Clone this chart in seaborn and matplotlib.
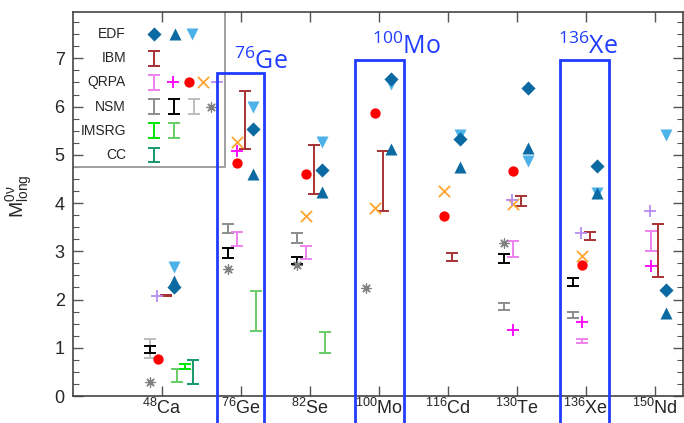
import numpy as np
import pandas as pd
import seaborn as sns
import matplotlib.pyplot as plt
from matplotlib.patches import Rectangle

nan = np.nan

# categories on the x axis
mass = ['48', '76', '82', '100', '116', '130', '136', '150']
element = ['Ca', 'Ge', 'Se', 'Mo', 'Cd', 'Te', 'Xe', 'Nd']
xpos = [0.855, 2, 3, 4, 5, 6, 7, 8]

# EDF points
edf_diamond = [2.25, 5.54, 4.68, 6.58, 5.33, 6.39, 4.76, 2.19]
edf_up = [2.38, 4.61, 4.23, 5.13, 4.75, 5.14, 4.21, 1.72]
edf_down = [2.68, 6.00, 5.27, 6.47, 5.42, 4.87, 4.21, 5.42]

# IBM ranges (low, high)
ibm_lo = [2.07, 5.13, 4.18, 3.83, 2.80, 3.94, 3.23, 2.47]
ibm_hi = [2.10, 6.32, 5.20, 5.07, 2.97, 4.15, 3.39, 3.56]

# QRPA
qrpa_bar_lo = [nan, 3.11, 2.85, nan, nan, 2.88, 1.09, 3.00]
qrpa_bar_hi = [nan, 3.39, 3.11, nan, nan, 3.21, 1.19, 3.42]
qrpa_plus = [nan, 5.07, nan, nan, nan, 1.37, 1.54, 2.70]
qrpa_dot = [0.77, 4.84, 4.60, 5.87, 3.73, 4.66, 2.71, nan]
qrpa_cross = [nan, 5.26, 3.73, 3.90, 4.24, 3.99, 2.90, nan]
qrpa_plus2 = [2.08, nan, nan, nan, nan, 4.06, 3.38, 3.84]

# NSM
nsm_gray_lo = [nan, 3.37, 3.18, nan, nan, 1.78, 1.62, nan]
nsm_gray_hi = [nan, 3.56, 3.38, nan, nan, 1.92, 1.75, nan]
nsm_black_lo = [0.90, 2.87, 2.73, nan, nan, 2.75, 2.28, nan]
nsm_black_hi = [1.03, 3.06, 2.88, nan, nan, 2.95, 2.44, nan]
nsm_light_lo = [0.79, nan, nan, nan, nan, nan, nan, nan]
nsm_light_hi = [1.19, nan, nan, nan, nan, nan, nan, nan]
nsm_star = [0.30, 2.64, 2.71, 2.24, nan, 3.17, nan, nan]

# IMSRG
imsrg_a_lo = [0.55, nan, nan, nan, nan, nan, nan, nan]
imsrg_a_hi = [0.66, nan, nan, nan, nan, nan, nan, nan]
imsrg_b_lo = [0.30, 1.35, 0.90, nan, nan, nan, nan, nan]
imsrg_b_hi = [0.57, 2.17, 1.32, nan, nan, nan, nan, nan]

# CC
cc_lo = [0.25, nan, nan, nan, nan, nan, nan, nan]
cc_hi = [0.75, nan, nan, nan, nan, nan, nan, nan]

c_edf = '#0b6aa2'
c_edf_light = '#4db2e8'
c_ibm = '#a83232'
c_violet = '#ee82ee'
c_magenta = '#ff00ff'
c_red = '#ff0000'
c_orange = '#ffa530'
c_lav = '#b68cf0'
c_gray = '#8c8c8c'
c_black = '#000000'
c_lgray = '#bdbdbd'
c_star = '#808080'
c_green = '#00e600'
c_lgreen = '#66cc66'
c_cc = '#16976c'
c_blue = '#1f3cff'

sns.set_style('ticks')
plt.rcParams['font.family'] = ['Liberation Sans', 'DejaVu Sans']
plt.rcParams['mathtext.default'] = 'regular'

fig = plt.figure(figsize=(6.84, 4.23), dpi=100)
ax = fig.add_axes([0.1067, 0.0638, 0.8918, 0.9078])

x = np.array(xpos)


def points(vals, dx, marker, color, s, lw=0):
    d = pd.DataFrame({'x': x + dx, 'y': vals}).dropna()
    sns.scatterplot(data=d, x='x', y='y', marker=marker, color=color,
                    s=s, linewidth=lw, ax=ax, zorder=3)


def bars(lo, hi, dx, color):
    lo = np.array(lo)
    hi = np.array(hi)
    ok = ~np.isnan(lo)
    mid = (lo + hi) / 2
    half = (hi - lo) / 2
    ax.errorbar(x[ok] + dx, mid[ok], yerr=half[ok], fmt='none', ecolor=color,
                elinewidth=1.4, capsize=4, capthick=1.4, zorder=2)


# NSM
bars(nsm_light_lo, nsm_light_hi, -0.18, c_lgray)
bars(nsm_gray_lo, nsm_gray_hi, -0.18, c_gray)
bars(nsm_black_lo, nsm_black_hi, -0.18, c_black)
points(nsm_star, -0.18, (8, 2, 0), c_star, 45, 0.9)

# IMSRG / CC
bars(imsrg_b_lo, imsrg_b_hi, 0.225, c_lgreen)
bars(imsrg_a_lo, imsrg_a_hi, 0.333, c_green)
bars(cc_lo, cc_hi, 0.45, c_cc)

# QRPA
bars(qrpa_bar_lo, qrpa_bar_hi, -0.05, c_violet)
points(qrpa_dot, -0.06, 'o', c_red, 55)
points(qrpa_cross, -0.06, 'x', c_orange, 65, 1.3)
points(qrpa_plus, -0.06, '+', c_magenta, 70, 1.3)
points(qrpa_plus2, -0.07, '+', c_lav, 70, 1.3)

# IBM
bars(ibm_lo, ibm_hi, 0.055, c_ibm)

# EDF
points(edf_down, 0.17, 'v', c_edf_light, 75)
points(edf_up, 0.17, '^', c_edf, 75)
points(edf_diamond, 0.17, 'D', c_edf, 52)

# highlighted nuclei boxes
for x0, x1, top, m, el, tx, ty in [(1.652, 2.333, 6.70, '76', 'Ge', 1.90, 6.77),
                                   (3.648, 4.362, 6.97, '100', 'Mo', 3.90, 7.10),
                                   (6.623, 7.333, 6.96, '136', 'Xe', 6.60, 7.10)]:
    ax.add_patch(Rectangle((x0, -1), x1 - x0, top + 1, fill=False,
                           edgecolor=c_blue, lw=2, clip_on=False, zorder=4))
    ax.text(tx, ty, r'$^{' + m + '}$' + el, color=c_blue, fontsize=18,
            family=['Open Sans', 'DejaVu Sans'], ha='left', va='baseline')

# legend drawn in the corner
ax.plot([-1, 1.77, 1.77], [4.74, 4.74, 9], color='#999999', lw=1.3, zorder=1)
leg_names = ['EDF', 'IBM', 'QRPA', 'NSM', 'IMSRG', 'CC']
leg_y = [7.5, 7.0, 6.5, 6.0, 5.5, 5.0]
for name, yy in zip(leg_names, leg_y):
    ax.text(0.333, yy, name, ha='right', va='center', fontsize=10)


def leg_pt(xx, yy, marker, color, s, lw=0):
    sns.scatterplot(x=[xx], y=[yy], marker=marker, color=color, s=s,
                    linewidth=lw, ax=ax, zorder=3)


def leg_bar(xx, yy, color):
    ax.errorbar([xx], [yy], yerr=[0.15], fmt='none', ecolor=color,
                elinewidth=1.4, capsize=4, capthick=1.4)


leg_pt(0.739, 7.5, 'D', c_edf, 52)
leg_pt(1.043, 7.5, '^', c_edf, 75)
leg_pt(1.286, 7.5, 'v', c_edf_light, 75)
leg_bar(0.739, 7.0, c_ibm)
leg_bar(0.739, 6.5, c_violet)
leg_pt(1.019, 6.5, '+', c_magenta, 70, 1.3)
leg_pt(1.25, 6.5, 'o', c_red, 55)
leg_pt(1.454, 6.5, 'x', c_orange, 65, 1.3)
leg_pt(1.648, 6.5, '+', c_lav, 70, 1.3)
leg_bar(0.739, 6.0, c_gray)
leg_bar(1.029, 6.0, c_black)
leg_bar(1.319, 6.0, c_lgray)
leg_pt(1.56, 6.0, (8, 2, 0), c_star, 45, 0.9)
leg_bar(0.739, 5.5, c_green)
leg_bar(1.029, 5.5, c_lgreen)
leg_bar(0.739, 5.0, c_cc)

ax.set_xlim(-0.435, 8.41)
ax.set_ylim(0, 7.96)
ax.set_xticks(xpos)
ax.set_xticklabels([r'$^{' + m + '}$' + e for m, e in zip(mass, element)], fontsize=13)
ax.set_yticks(range(8))
ax.set_yticks(np.arange(0, 8, 0.25), minor=True)
ax.tick_params(axis='both', which='both', direction='in', top=True, right=True,
               color='#555555')
ax.tick_params(axis='both', which='major', length=7, width=1)
ax.tick_params(axis='y', which='minor', length=4, width=0.8)
ax.tick_params(axis='y', labelsize=13, pad=6)
ax.tick_params(axis='x', pad=1)
for sp in ax.spines.values():
    sp.set_color('#444444')
    sp.set_linewidth(1.2)

ax.set_xlabel('')
ax.set_ylabel(r'$M^{0\nu}_{long}$', fontsize=14)
ax.yaxis.set_label_coords(-0.062, 0.52)

fig.savefig('out.png', dpi=100)
